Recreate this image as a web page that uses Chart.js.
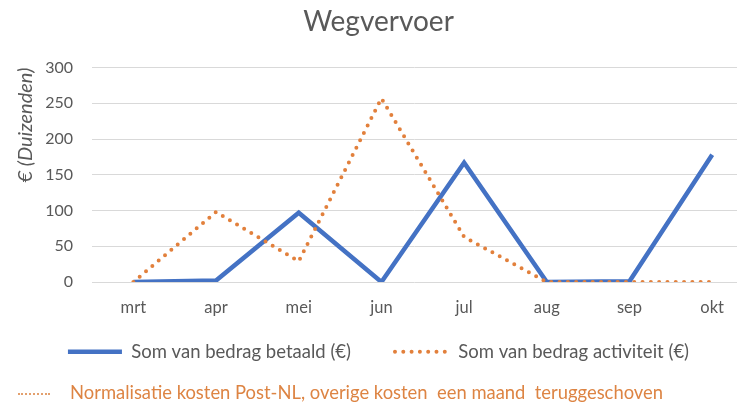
<!DOCTYPE html>
<html><head><meta charset="utf-8">
<script src="https://cdn.jsdelivr.net/npm/chart.js@4/dist/chart.umd.min.js"></script>
<style>
html,body{margin:0;padding:0;background:#fff;overflow:hidden}
#wrap{position:relative;width:737px;height:404px}
#note{position:absolute;left:18px;top:382px;font-family:Lato;font-size:18.4px;line-height:20px;color:#DD8443;white-space:pre}
#note .dots{display:inline-block;width:32px;height:0;border-top:2px dotted #E3A06E;vertical-align:middle;margin-right:20px}
</style></head><body>
<div id="wrap"><canvas id="c" width="737" height="404"></canvas>
<div id="note"><span class="dots"></span>Normalisatie kosten Post-NL, overige kosten  een maand  teruggeschoven</div></div>
<script>
const months = ['mrt','apr','mei','jun','jul','aug','sep','okt'];
const betaald = [0, 2, 97, 0, 167, 0, 1, 178];
const activiteit = [0, 98, 29, 257, 63, 0, 0, 0];
const yTicks = [0, 50, 100, 150, 200, 250, 300];

const gray = '#595959';
const liftLegend = {
  id: 'liftLegend',
  afterLayout(chart) { const l = chart.legend; if (l) { l.top -= 33; l.bottom -= 33; } }
};
new Chart(document.getElementById('c'), {
  type: 'line',
  data: {
    datasets: [
      {label: 'Som van bedrag betaald (€)', data: months.map((m, i) => ({x: i, y: betaald[i]})),
       borderColor: '#4472C4', backgroundColor: '#4472C4', borderWidth: 4.5, pointRadius: 0,
       tension: 0, order: 1, borderJoinStyle: 'miter'},
      {label: 'Som van bedrag activiteit (€)', data: months.map((m, i) => ({x: i, y: activiteit[i]})),
       borderColor: '#E2803C', backgroundColor: '#E2803C', borderWidth: 4, borderDash: [0, 8.3],
       borderCapStyle: 'round', pointRadius: 0, tension: 0, order: 0}
    ]
  },
  plugins: [liftLegend],
  options: {
    responsive: false, animation: false,
    layout: {padding: {left: 20, right: 0, top: 0, bottom: 0}},
    plugins: {
      title: {display: true, text: 'Wegvervoer', color: gray,
              font: {family: 'Lato', size: 28, weight: 'normal'}, padding: {top: 5, bottom: 29}},
      legend: {position: 'bottom',
        labels: {usePointStyle: true, pointStyle: 'line', pointStyleWidth: 54, boxWidth: 54, padding: 44,
                 color: gray, font: {family: 'Lato', size: 18.5},
                 sort: (a, b) => a.datasetIndex - b.datasetIndex,
                 generateLabels: chart => {
                   const items = Chart.defaults.plugins.legend.labels.generateLabels(chart);
                   items.forEach(it => {
                     const ds = chart.data.datasets[it.datasetIndex];
                     it.lineDash = ds.borderDash || [];
                     it.lineCap = ds.borderCapStyle || 'butt';
                     it.lineWidth = ds.borderWidth;
                     it.strokeStyle = ds.borderColor;
                     it.pointStyle = 'line';
                   });
                   return items;
                 }}},
      tooltip: {enabled: false}
    },
    scales: {
      x: {type: 'linear', min: -0.5, max: 7.3,
          grid: {display: false}, border: {display: false},
          afterBuildTicks: s => { s.ticks = months.map((m, i) => ({value: i})); },
          ticks: {callback: v => months[v], padding: 8, color: gray, font: {family: 'Lato', size: 16.5},
                  maxRotation: 0, autoSkip: false},
          afterFit: s => { s.height = 49.5; }},
      y: {min: 0, max: 300,
          afterBuildTicks: s => { s.ticks = yTicks.map(v => ({value: v})); },
          grid: {color: '#d9d9d9', lineWidth: 1, drawTicks: false}, border: {display: false},
          ticks: {padding: 19, color: gray, font: {family: 'Lato', size: 16}},
          title: {display: true, text: '€ (Duizenden)', align: 'end', color: gray,
                  font: {family: 'Lato', size: 20, style: 'italic'}, padding: {top: -6, bottom: 0}},
          afterFit: s => { s.width = 72; }}
    }
  }
});
</script>
</body></html>
